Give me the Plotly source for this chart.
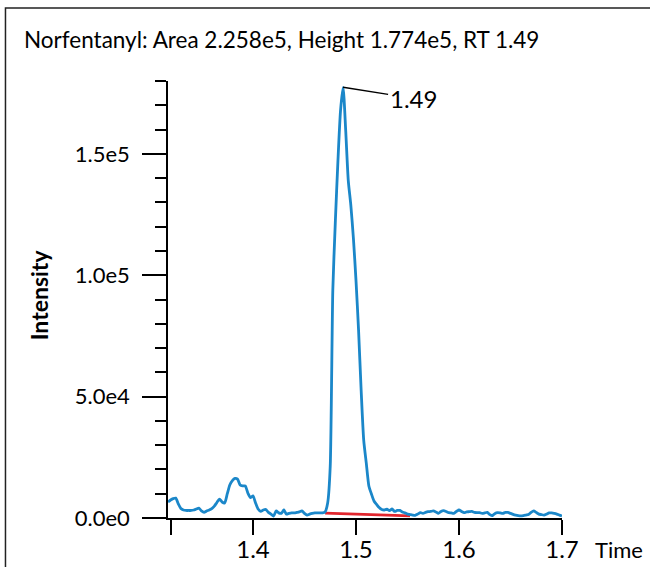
import plotly.graph_objects as go

# Chromatogram sampling: retention time (min) from 1.3175 in steps of 0.0025
rt_start = 1.3175
rt_step = 0.0025

intensity = [
    6600, 7400, 8000, 8200, 5800, 3900, 3300, 3100, 3100, 3100,
    3300, 3700, 4100, 2900, 2300, 2900, 3300, 3900, 4900, 6400,
    7800, 6600, 6200, 9900, 13600, 15400, 16300, 16000, 13600, 13200,
    13200, 10300, 8400, 9100, 6200, 3700, 2700, 3300, 3500, 2300,
    1600, 800, 2900, 2100, 1900, 3300, 1600, 1900, 2100, 2100,
    2300, 2500, 2900, 1900, 1200, 1600, 1900, 2100, 2100, 2100,
    2100, 2500, 6200, 21400, 93800, 122600, 147300, 167900, 177400, 159700,
    139100, 128800, 115200, 97900, 77400, 52700, 32100, 22600, 13200, 9900,
    7000, 5600, 4300, 3500, 3300, 3600, 3000, 3700, 2700, 3100,
    3100, 2500, 2100, 1600, 1400, 1200, 1100, 1600, 2200, 1900,
    2300, 2600, 2700, 2900, 2500, 1900, 2700, 3000, 2700, 2200,
    2100, 1900, 2700, 3300, 2700, 2200, 2500, 2600, 2700, 2300,
    2200, 2200, 1900, 2100, 2300, 1400, 1000, 1900, 2200, 2100,
    1900, 2300, 2300, 1900, 1500, 1200, 1000, 900, 1000, 1200,
    1400, 2300, 2900, 2300, 1600, 1400, 1200, 1600, 2100, 2100,
    1900, 1600, 1200, 800,
]
rt = [round(rt_start + i * rt_step, 4) for i in range(len(intensity))]

# Integration baseline endpoints
baseline_rt = [1.47, 1.5525]
baseline_int = [2000, 900]

# Peak summary
compound = "Norfentanyl"
peak_area = "2.258e5"
peak_height = 177400
peak_rt = 1.4875
rt_label = "1.49"

x_tickvals = [1.32, 1.4, 1.5, 1.6, 1.7]
x_ticktext = ["", "1.4", "1.5", "1.6", "1.7"]
y_tickvals = [0, 50000, 100000, 150000]
y_ticktext = ["0.0e0", "5.0e4", "1.0e5", "1.5e5"]

FONT = "Lato"
BLUE = "#1b87c9"
RED = "#e2262d"

fig = go.Figure()
fig.add_trace(go.Scatter(
    x=baseline_rt, y=baseline_int, mode="lines",
    line=dict(color=RED, width=2.8), hoverinfo="skip", showlegend=False,
))
fig.add_trace(go.Scatter(
    x=rt, y=intensity, mode="lines",
    line=dict(color=BLUE, width=2.8, shape="spline", smoothing=0.6),
    showlegend=False,
))

fig.update_layout(
    width=650, height=567,
    margin=dict(l=168, r=88, t=81, b=49),
    paper_bgcolor="white", plot_bgcolor="white",
    font=dict(family=FONT, color="black"),
    xaxis=dict(
        range=[rt_start, 1.7], showgrid=False, zeroline=False, automargin=False,
        showline=True, linecolor="black", linewidth=1.5,
        tickmode="array", tickvals=x_tickvals, ticktext=x_ticktext,
        ticks="outside", ticklen=15, tickwidth=1.5, tickcolor="black",
        tickfont=dict(size=24, family=FONT), ticklabelstandoff=-6,
    ),
    yaxis=dict(
        range=[0, 180000], showgrid=False, zeroline=False, automargin=False,
        showline=True, linecolor="black", linewidth=1.5,
        tickmode="array", tickvals=y_tickvals, ticktext=y_ticktext,
        ticks="outside", ticklen=24, tickwidth=1.5, tickcolor="black",
        tickfont=dict(size=22, family=FONT), ticklabelstandoff=8,
        minor=dict(tickmode="linear", tick0=0, dtick=10000, ticks="outside",
                   ticklen=11, tickwidth=1.5, tickcolor="black", showgrid=False),
    ),
    shapes=[dict(
        type="rect", xref="paper", yref="paper",
        x0=-0.4125, x1=1.4, y0=-0.3, y1=1.167,
        line=dict(color="#222222", width=1.5), fillcolor="rgba(0,0,0,0)",
        layer="below",
    )],
    annotations=[
        dict(
            text=f"{compound}: Area {peak_area}, Height {peak_height/1e5:.3f}e5, RT {rt_label}",
            xref="paper", yref="paper", x=-0.3706, y=1.094,
            xanchor="left", yanchor="middle", showarrow=False,
            font=dict(size=22.5, family=FONT),
        ),
        dict(
            text=rt_label, x=peak_rt, y=peak_height, xref="x", yref="y",
            showarrow=True, arrowhead=0, arrowwidth=1.5, arrowcolor="black",
            ax=70, ay=11, xanchor="center", yanchor="middle",
            font=dict(size=24, family=FONT),
        ),
        dict(
            text="Time", xref="paper", yref="paper", x=1.0787, y=-0.071,
            xanchor="left", yanchor="middle", showarrow=False,
            font=dict(size=22, family=FONT),
        ),
        dict(
            text="<b>Intensity</b>", xref="paper", yref="paper", x=-0.327, y=0.51,
            xanchor="center", yanchor="middle", showarrow=False, textangle=-90,
            font=dict(size=23, family=FONT),
        ),
    ],
)

fig.write_html("out.html")
